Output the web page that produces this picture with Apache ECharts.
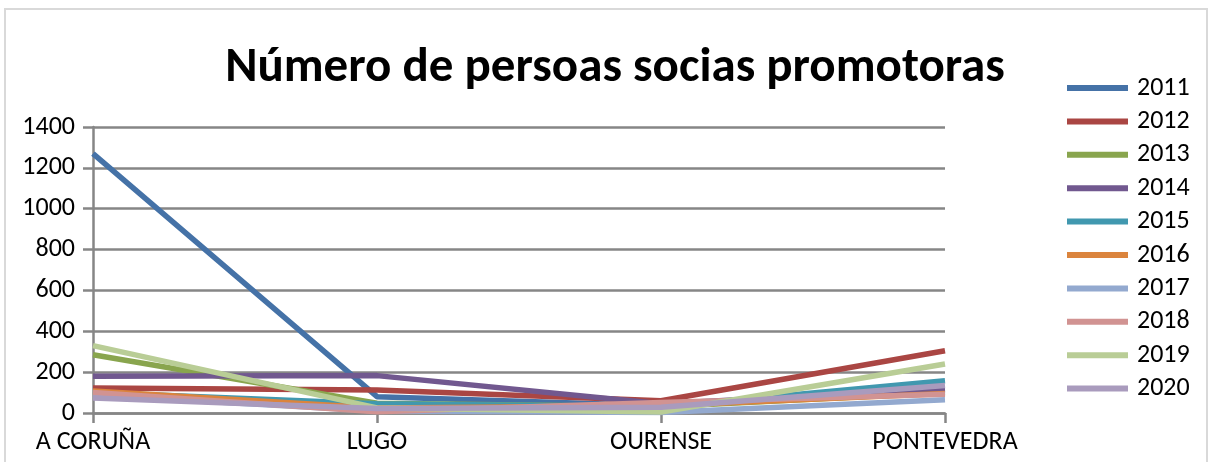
<!DOCTYPE html>
<html>
<head>
    <meta charset="utf-8"/>
    <style>
        html, body {
            height: 100%;
            margin: 0;
            padding: 0;
            background: #ffffff;
        }

        .frame {
            position: absolute;
            left: 4px;
            top: 8px;
            width: 1204px;
            height: 460px;
            border: 2px solid #d9d9d9;
            box-sizing: border-box;
        }

        .container {
            position: absolute;
            left: 0;
            top: 0;
            width: 1218px;
            height: 462px;
        }
    </style>
</head>
<body>
<div class="frame"></div>
<div id="main" class="container"></div>

<script src="https://cdn.jsdelivr.net/npm/echarts@6/dist/echarts.min.js"></script>
<script type="text/javascript">
    // datos
    var provincias = ['A CORUÑA', 'LUGO', 'OURENSE', 'PONTEVEDRA'];
    var anos = ['2011', '2012', '2013', '2014', '2015', '2016', '2017', '2018', '2019', '2020'];
    var v2011 = [1270, 80, 35, 110];
    var v2012 = [122, 112, 60, 305];
    var v2013 = [285, 48, 30, 100];
    var v2014 = [180, 183, 45, 118];
    var v2015 = [100, 45, 30, 158];
    var v2016 = [108, 25, 35, 95];
    var v2017 = [88, 10, 2, 65];
    var v2018 = [100, 6, 52, 92];
    var v2019 = [330, 25, 5, 240];
    var v2020 = [73, 22, 28, 135];
    var yTicks = [0, 200, 400, 600, 800, 1000, 1200, 1400];

    var valores = [v2011, v2012, v2013, v2014, v2015, v2016, v2017, v2018, v2019, v2020];
    var colores = ['#4572A7', '#AA4643', '#89A54E', '#71588F', '#4198AF',
        '#DB843D', '#93A9CF', '#D19392', '#B9CD96', '#A99BBD'];

    var font = 'Calibri, Carlito, "Liberation Sans Narrow", "Open Sans", sans-serif';
    var myChart = echarts.init(document.getElementById('main'));

    var series = [];
    for (var i = 0; i < anos.length; i++) {
        series.push({
            name: anos[i],
            type: 'line',
            data: valores[i],
            symbol: 'none',
            color: colores[i],
            lineStyle: {width: 5.5, color: colores[i]}
        });
    }

    var option = {
        animation: false,
        textStyle: {fontFamily: font},
        title: {
            text: 'Número de persoas socias promotoras',
            left: 610,
            top: 39,
            textAlign: 'center',
            textStyle: {
                fontFamily: font,
                fontSize: 49,
                fontWeight: 'bold',
                color: '#000000'
            }
        },
        legend: {
            orient: 'vertical',
            left: 1062,
            top: 70,
            itemWidth: 61,
            itemHeight: 6,
            itemGap: 7.4,
            icon: 'rect',
            data: anos,
            textStyle: {fontSize: 26, lineHeight: 26, color: '#000000', fontFamily: font, padding: [0, 0, 0, 4]}
        },
        grid: {
            left: 93,
            right: 273,
            top: 127,
            bottom: 49
        },
        xAxis: {
            type: 'category',
            boundaryGap: false,
            data: provincias,
            axisLine: {lineStyle: {color: '#868686', width: 2.5}},
            axisTick: {show: true, length: 10, lineStyle: {color: '#868686', width: 2.5}},
            axisLabel: {color: '#000000', fontSize: 26, margin: 16, fontFamily: font}
        },
        yAxis: {
            type: 'value',
            min: yTicks[0],
            max: yTicks[yTicks.length - 1],
            interval: 200,
            axisLine: {show: true, lineStyle: {color: '#868686', width: 2.5}},
            axisTick: {show: true, length: 10, lineStyle: {color: '#868686', width: 2.5}},
            splitLine: {show: true, lineStyle: {color: '#868686', width: 2.5}},
            axisLabel: {
                color: '#000000', fontSize: 26, margin: 18, fontFamily: font,
                formatter: function (v) { return String(v); }
            }
        },
        series: series
    };

    myChart.setOption(option);
</script>
</body>
</html>
